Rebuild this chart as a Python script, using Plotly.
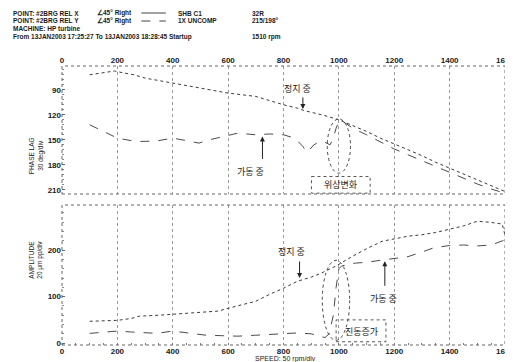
import plotly.graph_objects as go

# ---------------- data ----------------
# Phase lag (deg) vs speed (rpm)
stop_phase_rpm = [100, 150, 190, 225, 260, 300, 350, 400, 450, 520, 600, 650, 700, 750, 800,
                  850, 875, 900, 950, 1000, 1050, 1100, 1150, 1200, 1250, 1300, 1350, 1400,
                  1450, 1500, 1550, 1600]
stop_phase_deg = [72, 69, 67.5, 70, 72, 76, 79, 82, 85, 90, 94, 96, 98, 103, 108,
                  112, 115, 117, 121, 126, 133, 140, 148, 155, 162, 169, 177, 184,
                  191, 198, 205, 212]

run_phase_rpm = [100, 125, 150, 200, 250, 280, 340, 400, 450, 495, 520, 555, 600, 635, 700,
                 750, 800, 830, 850, 870, 885, 900, 910, 930, 950, 968, 980, 990, 1000, 1010,
                 1050, 1100, 1150, 1200, 1250, 1300, 1350, 1400, 1450, 1500, 1550, 1600]
run_phase_deg = [132, 136, 140, 148, 151, 152, 151.5, 148, 151, 154, 151, 148, 145, 142, 144,
                 143, 144, 147, 151, 158, 165, 160, 156, 152, 153, 156, 148, 136, 128, 127,
                 136, 144, 152, 161, 168, 175, 182, 189, 196, 203, 209, 214]

# Amplitude (um pp) vs speed (rpm)
stop_amp_rpm = [100, 150, 200, 250, 280, 350, 400, 450, 495, 565, 600, 650, 700, 750, 800,
                850, 900, 935, 990, 1050, 1100, 1156, 1200, 1250, 1300, 1350, 1400, 1450,
                1500, 1545, 1590, 1600]
stop_amp_val = [47, 48, 49, 53, 58, 60, 62, 64, 67, 69, 75, 82, 90, 105, 118,
                133, 142, 150, 166, 187, 203, 219, 224, 230, 233, 238, 245, 252,
                262, 260, 256, 232]

run_amp_rpm = [100, 150, 200, 250, 300, 342, 400, 450, 520, 580, 635, 700, 750, 800, 850,
               900, 930, 950, 965, 980, 990, 1000, 1010, 1060, 1100, 1156, 1200, 1250, 1300,
               1343, 1400, 1450, 1500, 1550, 1600]
run_amp_val = [21, 23, 26, 24, 22, 21, 26, 22, 17, 16, 15, 17, 19, 21, 22,
               20, 15, 12, 20, 60, 120, 160, 166, 172, 174, 178, 181, 186, 196,
               205, 210, 211, 209, 211, 222]

speed_ticks = [0, 200, 400, 600, 800, 1000, 1200, 1400, 1600]
phase_ticks = [90, 120, 150, 180, 210]
amp_ticks = [0, 100, 200]

header_lines = [
    "POINT: #2BRG REL X",
    "POINT: #2BRG REL Y",
    "MACHINE: HP turbine",
    "From 13JAN2003 17:25:27 To 13JAN2003 18:28:45 Startup",
]

# ---------------- layout helpers ----------------
W, H = 513, 362
ML, MR, MT, MB = 54, 7, 58, 25
PW, PH = W - ML - MR, H - MT - MB


def px(x):
    return (x - ML) / PW


def py(y):
    return (H - MB - y) / PH


LINE1 = "#3a3a3a"
LINE2 = "#4a4a4a"
TXT = "#1a1a1a"
tickfont = dict(family="Liberation Sans", size=8, color=TXT, weight="bold")
kfont = dict(family="Noto Sans CJK KR", size=9, color=TXT)
hfont = dict(family="Liberation Sans", size=6.5, color=TXT, weight="bold")

fig = go.Figure()
fig.add_trace(go.Scatter(x=stop_phase_rpm, y=stop_phase_deg, mode="lines",
                         line=dict(color=LINE1, width=1, dash="dot"), xaxis="x", yaxis="y"))
fig.add_trace(go.Scatter(x=run_phase_rpm, y=run_phase_deg, mode="lines",
                         line=dict(color=LINE2, width=1, dash="dash"), xaxis="x", yaxis="y"))
fig.add_trace(go.Scatter(x=stop_amp_rpm, y=stop_amp_val, mode="lines",
                         line=dict(color=LINE1, width=1, dash="dot"), xaxis="x2", yaxis="y2"))
fig.add_trace(go.Scatter(x=run_amp_rpm, y=run_amp_val, mode="lines",
                         line=dict(color=LINE2, width=1, dash="dash"), xaxis="x2", yaxis="y2"))

xcommon = dict(range=[0, 1600], tickvals=speed_ticks, showgrid=True, gridcolor="#9a9a9a",
               griddash="dot", gridwidth=1, zeroline=False, showline=False,
               tickfont=tickfont, ticks="", ticklabeloverflow="allow")
fig.update_layout(
    width=W, height=H, margin=dict(l=ML, r=MR, t=MT, b=MB),
    paper_bgcolor="white", plot_bgcolor="white", showlegend=False,
    xaxis=dict(domain=[0, 1], anchor="y", side="top", showticklabels=True, **xcommon),
    xaxis2=dict(domain=[0, 1], anchor="y2", matches="x", showticklabels=True,
                minor=dict(ticks="inside", ticklen=2, dtick=50, tickcolor="#777"), **xcommon),
    yaxis=dict(domain=[py(186), py(58)], range=[215, 61.5], tickvals=phase_ticks,
               showgrid=False, zeroline=False, tickfont=tickfont, ticks="inside",
               ticklen=3, tickcolor="#666",
               minor=dict(ticks="inside", ticklen=2, dtick=6, tickcolor="#888")),
    yaxis2=dict(domain=[0, py(197)], range=[-4, 297], tickvals=amp_ticks,
                showgrid=False, zeroline=False, tickfont=tickfont, ticks="inside",
                ticklen=3, tickcolor="#666",
                minor=dict(ticks="inside", ticklen=2, dtick=20, tickcolor="#888")),
)

# dotted panel frames
for xr, yr in (("x domain", "y domain"), ("x2 domain", "y2 domain")):
    fig.add_shape(type="rect", xref=xr, yref=yr, x0=0, x1=1, y0=0, y1=1,
                  line=dict(color="#666", width=1, dash="dot"))

ann = []
# header
for i, t in enumerate(header_lines):
    ann.append(dict(text=t, xref="paper", yref="paper", x=px(2), y=py(5 + 8 * i),
                    xanchor="left", yanchor="middle", showarrow=False, font=hfont))
for yy, t in ((5, "∠45° Right"), (13, "∠45° Right")):
    ann.append(dict(text=t, xref="paper", yref="paper", x=px(88), y=py(yy),
                    xanchor="left", yanchor="middle", showarrow=False, font=hfont))
for yy, t in ((5, "SHB C1"), (13, "1X UNCOMP")):
    ann.append(dict(text=t, xref="paper", yref="paper", x=px(170), y=py(yy),
                    xanchor="left", yanchor="middle", showarrow=False, font=hfont))
for yy, t in ((5, "32R"), (13, "215/198°"), (29, "1510 rpm")):
    ann.append(dict(text=t, xref="paper", yref="paper", x=px(246), y=py(yy),
                    xanchor="left", yanchor="middle", showarrow=False, font=hfont))
fig.add_shape(type="line", xref="paper", yref="paper", x0=px(135), x1=px(160), y0=py(5), y1=py(5),
              line=dict(color="#444", width=1))
fig.add_shape(type="line", xref="paper", yref="paper", x0=px(135), x1=px(160), y0=py(13), y1=py(13),
              line=dict(color="#444", width=1, dash="dash"))

# axis titles
ann.append(dict(text="PHASE LAG<br>30 deg/div", xref="paper", yref="paper", x=px(17), y=py(127),
                textangle=-90, showarrow=False, font=dict(family="Liberation Sans", size=6.5, color=TXT)))
ann.append(dict(text="AMPLITUDE<br>20 μm pp/div", xref="paper", yref="paper", x=px(17), y=py(273),
                textangle=-90, showarrow=False, font=dict(family="Liberation Sans", size=6.5, color=TXT)))
ann.append(dict(text="SPEED: 50 rpm/div", xref="paper", yref="paper", x=px(282), y=py(357),
                showarrow=False, font=dict(family="Liberation Sans", size=7, color=TXT)))

# Korean annotations - top panel
ann.append(dict(text="정지 중", xref="x", yref="y", x=850, y=89, showarrow=False, font=kfont))
ann.append(dict(text="", xref="x", yref="y", x=870, y=113, ax=0, ay=-13, showarrow=True,
                arrowhead=2, arrowsize=1, arrowwidth=1, arrowcolor="#222"))
ann.append(dict(text="가동 중", xref="x", yref="y", x=680, y=188, showarrow=False, font=kfont))
ann.append(dict(text="", xref="x", yref="y", x=724, y=146, ax=0, ay=24, showarrow=True,
                arrowhead=2, arrowsize=1, arrowwidth=1, arrowcolor="#222"))
ann.append(dict(text="위상변화", xref="x", yref="y", x=1007, y=204, showarrow=False, font=kfont))
# bottom panel
ann.append(dict(text="정지 중", xref="x2", yref="y2", x=830, y=198, showarrow=False, font=kfont))
ann.append(dict(text="", xref="x2", yref="y2", x=858, y=140, ax=0, ay=-18, showarrow=True,
                arrowhead=2, arrowsize=1, arrowwidth=1, arrowcolor="#222"))
ann.append(dict(text="가동 중", xref="x2", yref="y2", x=1160, y=97, showarrow=False, font=kfont))
ann.append(dict(text="", xref="x2", yref="y2", x=1166, y=176, ax=0, ay=26, showarrow=True,
                arrowhead=2, arrowsize=1, arrowwidth=1, arrowcolor="#222"))
ann.append(dict(text="진동증가", xref="x2", yref="y2", x=1080, y=26, showarrow=False, font=kfont))
fig.update_layout(annotations=ann)

# ellipses and boxes
fig.add_shape(type="circle", xref="x", yref="y", x0=958, x1=1042, y0=125, y1=190,
              line=dict(color="#444", width=1, dash="dot"))
fig.add_shape(type="rect", xref="x", yref="y", x0=901, x1=1113, y0=194, y1=214,
              line=dict(color="#555", width=1, dash="dot"))
fig.add_shape(type="circle", xref="x2", yref="y2", x0=940, x1=1039, y0=6, y1=178,
              line=dict(color="#444", width=1, dash="dot"))
fig.add_shape(type="rect", xref="x2", yref="y2", x0=990, x1=1170, y0=3, y1=50,
              line=dict(color="#555", width=1, dash="dot"))

fig.write_html("out.html")
